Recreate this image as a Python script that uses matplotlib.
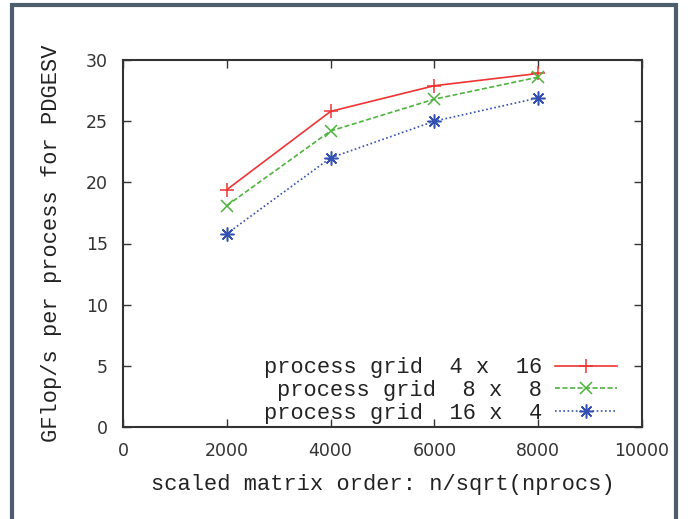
import matplotlib
matplotlib.use("Agg")
import matplotlib.pyplot as plt
from matplotlib.patches import Rectangle

# data
orders = [2000, 4000, 6000, 8000]
grid_4x16 = [19.4, 25.8, 27.9, 28.9]
grid_8x8 = [18.1, 24.2, 26.8, 28.6]
grid_16x4 = [15.8, 22.0, 25.0, 26.9]
labels = ["process grid  4 x  16", "process grid  8 x  8", "process grid  16 x  4"]
xticks = [0, 2000, 4000, 6000, 8000, 10000]
yticks = [0, 5, 10, 15, 20, 25, 30]

mono = "Liberation Mono"
fs = 15.8

fig = plt.figure(figsize=(6.88, 5.19), dpi=100)
ax = fig.add_axes([123 / 688, 92 / 519, 519 / 688, 367 / 519])

ax.plot(orders, grid_4x16, color="#f03434", ls="-", lw=1.2,
        marker="+", ms=10, mew=1.1, label=labels[0])
ax.plot(orders, grid_8x8, color="#4cb43c", ls=(0, (3, 1.5)), lw=1.2,
        marker="x", ms=9, mew=1.1, label=labels[1])
ax.plot(orders, grid_16x4, color="#3450b0", ls=(0, (1, 1.5)), lw=1.2,
        marker=(8, 2, 0), ms=10, mew=1.1, label=labels[2])

ax.set_xlim(0, 10000)
ax.set_ylim(0, 30)
ax.set_xticks(xticks)
ax.set_yticks(yticks)
ax.tick_params(direction="in", top=True, right=True, length=6, width=1,
               labelsize=12.5, colors="#333333")
ax.tick_params(axis="x", pad=11)
ax.tick_params(axis="y", pad=11)
for s in ax.spines.values():
    s.set_color("#333333")
    s.set_linewidth(1.5)

ax.set_xlabel("scaled matrix order: n/sqrt(nprocs)", family=mono,
              fontsize=fs, color="#222222", labelpad=10)
ax.set_ylabel("GFlop/s per process for PDGESV", family=mono,
              fontsize=fs, color="#222222", labelpad=17)

leg = ax.legend(loc="lower right", frameon=False, markerfirst=False,
                prop={"family": mono, "size": fs}, handlelength=2.85,
                handletextpad=0.55, labelspacing=0.08,
                bbox_to_anchor=(0.99, -0.045))
for t in leg.get_texts():
    t.set_color("#222222")

# slate frame round the figure
fig.patches.append(Rectangle((12 / 688, -0.05), 664 / 688, 1.05 - 5 / 519,
                             transform=fig.transFigure, fill=False,
                             edgecolor="#4d5d6b", linewidth=3))

fig.savefig("out.png", dpi=100)
